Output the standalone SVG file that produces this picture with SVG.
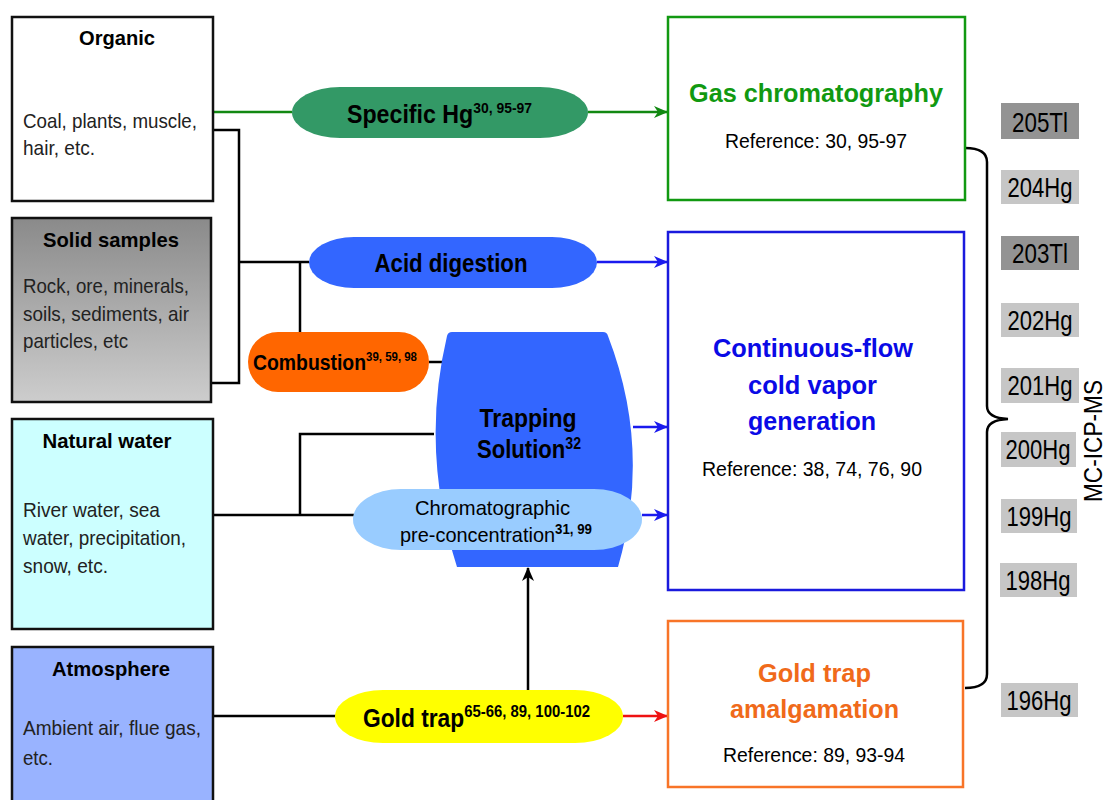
<svg xmlns="http://www.w3.org/2000/svg" width="1105" height="800" viewBox="0 0 1105 800">
<style>
.src{stroke:#111;stroke-width:2.5}
.ttl{font-family:"Liberation Sans",Arial,sans-serif;font-weight:bold;font-size:21px;fill:#000;text-anchor:middle}
.body{font-family:"Liberation Sans",Arial,sans-serif;font-size:21px;fill:#222}
.pill{font-family:"Liberation Sans",Arial,sans-serif;font-weight:bold;fill:#000}
.reg{font-family:"Liberation Sans",Arial,sans-serif;font-size:21px;fill:#000;text-anchor:middle}
.big{font-family:"Liberation Sans",Arial,sans-serif;font-weight:bold;font-size:26px;text-anchor:middle}
.iso{font-family:"Liberation Sans",Arial,sans-serif;font-size:27px;fill:#000;text-anchor:middle}
.blk{fill:none;stroke:#000;stroke-width:2.5}
</style>
<defs>
<linearGradient id="gSolid" x1="0" y1="0" x2="0" y2="1">
<stop offset="0" stop-color="#8a8a8a"/>
<stop offset="1" stop-color="#cdcdcd"/>
</linearGradient>
<marker id="aG" markerWidth="14" markerHeight="12" refX="13" refY="6" orient="auto" markerUnits="userSpaceOnUse"><path d="M0,0 L14,6 L0,12 L4,6 Z" fill="#118811"/></marker>
<marker id="aB" markerWidth="14" markerHeight="12" refX="13" refY="6" orient="auto" markerUnits="userSpaceOnUse"><path d="M0,0 L14,6 L0,12 L4,6 Z" fill="#1a1aee"/></marker>
<marker id="aR" markerWidth="14" markerHeight="12" refX="13" refY="6" orient="auto" markerUnits="userSpaceOnUse"><path d="M0,0 L14,6 L0,12 L4,6 Z" fill="#ee1111"/></marker>
<marker id="aK" markerWidth="14" markerHeight="12" refX="13" refY="6" orient="auto" markerUnits="userSpaceOnUse"><path d="M0,0 L14,6 L0,12 L4,6 Z" fill="#000"/></marker>
</defs>
<rect width="1105" height="800" fill="#fff"/>

<g id="connectors">
<path d="M213,112 L292,112" fill="none" stroke="#118811" stroke-width="2.5"/>
<path d="M588,112 L667,112" fill="none" stroke="#118811" stroke-width="2.5" marker-end="url(#aG)"/>
<path class="blk" d="M213,130 L239,130 L239,383 L211,383"/>
<path class="blk" d="M239,262 L309,262"/>
<path class="blk" d="M300,262 L300,332"/>
<path class="blk" d="M429,362 L446,362"/>
<path d="M597,262 L667,262" fill="none" stroke="#1a1aee" stroke-width="2.5" marker-end="url(#aB)"/>
<path d="M633,427 L667,427" fill="none" stroke="#1a1aee" stroke-width="2.5" marker-end="url(#aB)"/>
<path d="M642,515 L667,515" fill="none" stroke="#1a1aee" stroke-width="2.5" marker-end="url(#aB)"/>
<path class="blk" d="M213,515 L354,515"/>
<path class="blk" d="M300,515 L300,434 L434,434"/>
<path class="blk" d="M213,716 L336,716"/>
<path d="M623,716 L667,716" fill="none" stroke="#ee1111" stroke-width="2.5" marker-end="url(#aR)"/>
<path class="blk" d="M528,690 L528,568" marker-end="url(#aK)"/>
<path class="blk" d="M965,148 Q987,148 987,162 L987,406 Q987,418 1008,419 Q987,420 987,432 L987,674 Q987,688 965,688"/>
</g>

<g id="organic">
<rect x="12" y="17" width="201" height="184" fill="#fff" class="src"/>
<text class="ttl" x="117" y="45" textLength="76" lengthAdjust="spacingAndGlyphs">Organic</text>
<text class="body" x="23" y="128" textLength="174" lengthAdjust="spacingAndGlyphs">Coal, plants, muscle,</text>
<text class="body" x="23" y="155" textLength="72" lengthAdjust="spacingAndGlyphs">hair, etc.</text>
</g>

<g id="solid">
<rect x="12" y="218" width="199" height="184" fill="url(#gSolid)" class="src"/>
<text class="ttl" x="111" y="247" textLength="136" lengthAdjust="spacingAndGlyphs">Solid samples</text>
<text class="body" x="23" y="293" textLength="166" lengthAdjust="spacingAndGlyphs">Rock, ore, minerals,</text>
<text class="body" x="23" y="321" textLength="166" lengthAdjust="spacingAndGlyphs">soils, sediments, air</text>
<text class="body" x="23" y="348" textLength="105" lengthAdjust="spacingAndGlyphs">particles, etc</text>
</g>

<g id="water">
<rect x="12" y="419" width="201" height="210" fill="#ccffff" class="src"/>
<text class="ttl" x="107" y="448" textLength="129" lengthAdjust="spacingAndGlyphs">Natural water</text>
<text class="body" x="23" y="517" textLength="137" lengthAdjust="spacingAndGlyphs">River water, sea</text>
<text class="body" x="23" y="545" textLength="163" lengthAdjust="spacingAndGlyphs">water, precipitation,</text>
<text class="body" x="23" y="573" textLength="85" lengthAdjust="spacingAndGlyphs">snow, etc.</text>
</g>

<g id="atmosphere">
<rect x="12" y="647" width="201" height="160" fill="#99b3ff" class="src"/>
<text class="ttl" x="111" y="676" textLength="118" lengthAdjust="spacingAndGlyphs">Atmosphere</text>
<text class="body" x="23" y="735" textLength="178" lengthAdjust="spacingAndGlyphs">Ambient air, flue gas,</text>
<text class="body" x="23" y="765" textLength="30" lengthAdjust="spacingAndGlyphs">etc.</text>
</g>

<g id="specific-hg">
<rect x="292" y="87" width="296" height="51" rx="48" ry="25.5" fill="#339966"/>
<text class="pill" x="347" y="123" font-size="25" textLength="185" lengthAdjust="spacingAndGlyphs">Specific Hg<tspan font-size="15" dy="-10">30, 95-97</tspan></text>
</g>

<g id="acid-digestion">
<rect x="309" y="237" width="288" height="51" rx="45" ry="25.5" fill="#3366ff"/>
<text class="pill" x="451" y="272" font-size="25" text-anchor="middle" textLength="153" lengthAdjust="spacingAndGlyphs">Acid digestion</text>
</g>

<g id="combustion">
<rect x="248" y="332" width="181" height="60" rx="30" ry="30" fill="#ff6600"/>
<text class="pill" x="253" y="370" font-size="22" textLength="164" lengthAdjust="spacingAndGlyphs">Combustion<tspan font-size="13" dy="-9">39, 59, 98</tspan></text>
</g>

<g id="trapping-solution">
<path d="M452,332 L603,332 Q607,332 608,336 Q652,450 618,567 L457,567 Q420,450 447,336 Q448,332 452,332 Z" fill="#3366ff"/>
<text class="pill" x="528" y="427" font-size="25" text-anchor="middle" textLength="97" lengthAdjust="spacingAndGlyphs">Trapping</text>
<text class="pill" x="477" y="458" font-size="25" textLength="104" lengthAdjust="spacingAndGlyphs">Solution<tspan font-size="16" dy="-9">32</tspan></text>
</g>

<g id="chromatographic">
<rect x="353" y="489" width="289" height="61" rx="48" ry="30.5" fill="#99ccff"/>
<text class="reg" x="492.5" y="515" textLength="155" lengthAdjust="spacingAndGlyphs">Chromatographic</text>
<text x="400" y="542" font-family="Liberation Sans, Arial, sans-serif" font-size="21" fill="#000" textLength="192" lengthAdjust="spacingAndGlyphs">pre-concentration<tspan font-size="14" font-weight="bold" dy="-8">31, 99</tspan></text>
</g>

<g id="gold-trap">
<rect x="335" y="690" width="288" height="53" rx="48" ry="26.5" fill="#ffff00"/>
<text class="pill" x="363" y="727" font-size="26" textLength="227" lengthAdjust="spacingAndGlyphs">Gold trap<tspan font-size="17" dy="-10">65-66, 89, 100-102</tspan></text>
</g>

<g id="gas-chromatography">
<rect x="668" y="17" width="297" height="183" fill="#fff" stroke="#119911" stroke-width="2.5"/>
<text class="big" x="816" y="102" fill="#119911" textLength="254" lengthAdjust="spacingAndGlyphs">Gas chromatography</text>
<text class="reg" x="816" y="148" textLength="182" lengthAdjust="spacingAndGlyphs">Reference: 30, 95-97</text>
</g>

<g id="cold-vapor">
<rect x="668" y="232" width="296" height="358" fill="#fff" stroke="#1a1add" stroke-width="2.5"/>
<text class="big" x="813" y="357" fill="#0a0ae6" textLength="200" lengthAdjust="spacingAndGlyphs">Continuous-flow</text>
<text class="big" x="812.5" y="394" fill="#0a0ae6" textLength="129" lengthAdjust="spacingAndGlyphs">cold vapor</text>
<text class="big" x="812" y="430" fill="#0a0ae6" textLength="128" lengthAdjust="spacingAndGlyphs">generation</text>
<text class="reg" x="812" y="476" textLength="220" lengthAdjust="spacingAndGlyphs">Reference: 38, 74, 76, 90</text>
</g>

<g id="gold-amalgamation">
<rect x="668" y="621" width="295" height="166" fill="#fff" stroke="#f87428" stroke-width="2.5"/>
<text class="big" x="814.5" y="682" fill="#f06a1a" textLength="113" lengthAdjust="spacingAndGlyphs">Gold trap</text>
<text class="big" x="814.5" y="718" fill="#f06a1a" textLength="169" lengthAdjust="spacingAndGlyphs">amalgamation</text>
<text class="reg" x="814" y="762" textLength="182" lengthAdjust="spacingAndGlyphs">Reference: 89, 93-94</text>
</g>

<g id="isotopes">
<rect x="1001" y="103" width="78" height="36" fill="#939393"/>
<text class="iso" x="1040" y="132" textLength="56" lengthAdjust="spacingAndGlyphs">205Tl</text>
<rect x="1001" y="170" width="78" height="34" fill="#c6c6c6"/>
<text class="iso" x="1040" y="197" textLength="65" lengthAdjust="spacingAndGlyphs">204Hg</text>
<rect x="1001" y="236" width="78" height="34" fill="#939393"/>
<text class="iso" x="1040" y="263" textLength="56" lengthAdjust="spacingAndGlyphs">203Tl</text>
<rect x="1001" y="303" width="78" height="34" fill="#c6c6c6"/>
<text class="iso" x="1040" y="330" textLength="65" lengthAdjust="spacingAndGlyphs">202Hg</text>
<rect x="1001" y="368" width="78" height="35" fill="#c6c6c6"/>
<text class="iso" x="1040" y="395" textLength="65" lengthAdjust="spacingAndGlyphs">201Hg</text>
<rect x="1001" y="432" width="75" height="35" fill="#c6c6c6"/>
<text class="iso" x="1038" y="459" textLength="65" lengthAdjust="spacingAndGlyphs">200Hg</text>
<rect x="1001" y="499" width="76" height="34" fill="#c6c6c6"/>
<text class="iso" x="1039" y="526" textLength="65" lengthAdjust="spacingAndGlyphs">199Hg</text>
<rect x="1000" y="563" width="77" height="34" fill="#c6c6c6"/>
<text class="iso" x="1038" y="590" textLength="65" lengthAdjust="spacingAndGlyphs">198Hg</text>
<rect x="1001" y="683" width="77" height="34" fill="#c6c6c6"/>
<text class="iso" x="1039" y="710" textLength="65" lengthAdjust="spacingAndGlyphs">196Hg</text>
</g>

<g id="mc-icp-ms">
<text transform="translate(1102,441) rotate(-90)" x="0" y="0" font-family="Liberation Sans, Arial, sans-serif" font-size="25" fill="#000" text-anchor="middle" textLength="122" lengthAdjust="spacingAndGlyphs">MC-ICP-MS</text>
</g>
</svg>
